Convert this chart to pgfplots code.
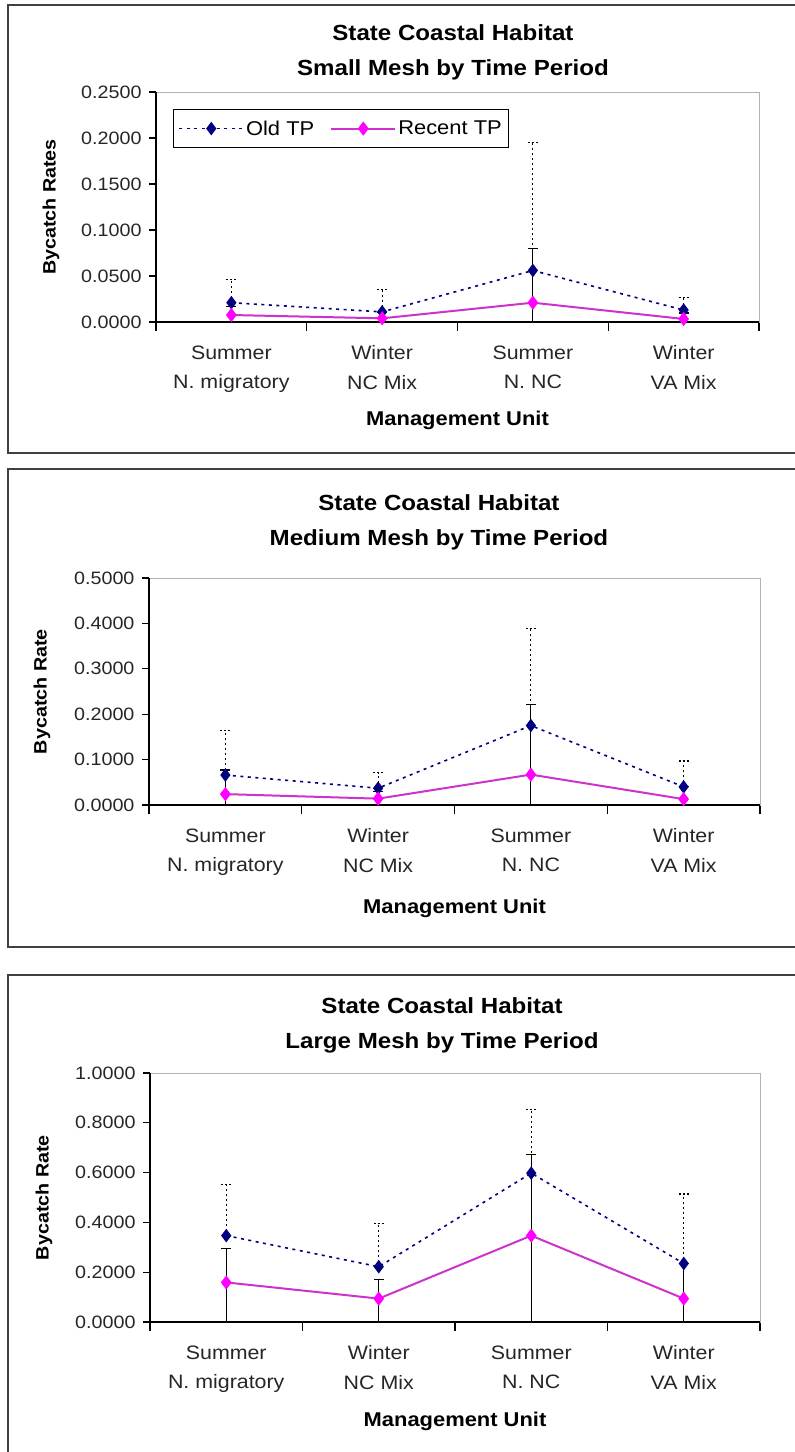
\documentclass[border=0pt]{standalone}
\usepackage{pgfplots}
\pgfplotsset{compat=1.18}
\usepackage{fontspec}
\setmainfont{Liberation Sans}[FakeStretch=1.1]
\definecolor{oldc}{RGB}{0,0,128}
\definecolor{recline}{RGB}{204,51,204}
\definecolor{recmark}{RGB}{255,0,255}
\newcommand\fTitle{\fontsize{22}{35}\selectfont\bfseries}
\newcommand\fTick{\fontsize{18}{20}\selectfont}
\newcommand\fCat{\fontsize{19.5}{30}\selectfont}
\newcommand\fLab{\fontsize{20}{24}\selectfont\bfseries}
\newcommand\fYLab{\fontsize{18}{22}\selectfont\bfseries}
\newcommand\fLeg{\fontsize{20}{24}\selectfont}

\pgfplotsset{
  panel/.style={
    scale only axis, xmin=-0.5, xmax=3.5, ymin=0, clip=false,
    axis line style={draw=gray!60, line width=0.8bp},
    xtick={0,1,2,3},
    xticklabels={{Summer\\N. migratory},{Winter\\NC Mix},{Summer\\N. NC},{Winter\\VA Mix}},
    minor xtick={-0.5,0.5,1.5,2.5,3.5},
    major x tick style={draw=none},
    tick style={black, line width=1.2bp},
    major tick length=7bp, minor tick length=9bp,
    tick align=outside, xtick pos=bottom, ytick pos=left,
    xticklabel style={font=\fCat, align=center, text=black!85, yshift=-13bp},
    yticklabel style={font=\fTick, text=black!85, xshift=-4bp,
      /pgf/number format/fixed, /pgf/number format/fixed zerofill,
      /pgf/number format/precision=4},
    /pgf/number format/assume math mode=true,
    scaled y ticks=false,
    xlabel={Management Unit},
    xlabel style={font=\fLab, anchor=center},
    ylabel style={font=\fYLab, anchor=center},
    title style={font=\fTitle, align=center, anchor=center, yshift=-6bp},
    error bars/y explicit,
    legend image code/.code={\draw[mark repeat=2,mark phase=2] plot coordinates {(0bp,0bp) (32bp,0bp) (64bp,0bp)};},
  },
  oldp/.style={color=oldc, line width=1.6bp, dash pattern=on 3bp off 4.5bp,
    mark=diamond*, mark size=5.5bp, mark options={solid, fill=oldc, draw=oldc},
    error bars/y dir=plus,
    error bars/error bar style={black, line width=1.2bp, dash pattern=on 2bp off 3bp},
    error bars/error mark options={rotate=90, black, mark size=5bp, line width=1.2bp, dash pattern=on 2bp off 2bp}},
  recp/.style={color=recline, line width=2bp, solid,
    mark=diamond*, mark size=5.5bp, mark options={solid, fill=recmark, draw=recmark},
    error bars/y dir=both,
    error bars/error bar style={black, line width=1.2bp, solid},
    error bars/error mark options={rotate=90, black, mark size=5bp, line width=1.2bp, solid}},
}

\begin{document}
\begin{tikzpicture}
\path[use as bounding box] (0,0) rectangle (795bp,-1452bp);
\draw[line width=1.5bp, black!75] (8bp,-5bp) rectangle (805bp,-453bp);
\draw[line width=1.5bp, black!75] (8bp,-469bp) rectangle (805bp,-947bp);
\draw[line width=1.5bp, black!75] (8bp,-975bp) rectangle (805bp,-1465bp);

% Panel 1
\begin{axis}[panel, at={(156bp,-322bp)}, anchor=south west,
  width=603bp, height=230bp, ymax=0.25, ytick distance=0.05,
  ylabel={Bycatch Rates},
  ylabel style={at={(axis description cs:-0.1740,0.5)}},
  xlabel style={at={(axis description cs:0.5,-0.426)}},
  title={State Coastal Habitat\\Small Mesh by Time Period},
  title style={at={(axis description cs:0.4925,1.174)}},
  legend columns=2,
  legend style={at={(axis description cs:0.028,0.926)}, anchor=north west,
    draw=black, line width=1.2bp, font=\fLeg, inner xsep=5bp, inner ysep=9bp,
    /tikz/every even column/.append style={column sep=14bp}},
]
\addplot[oldp] coordinates {
 (0,0.021) += (0,0.025) -= (0,0)
 (1,0.011) += (0,0.024) -= (0,0)
 (2,0.056) += (0,0.139) -= (0,0)
 (3,0.013) += (0,0.0134) -= (0,0)
};
\addlegendentry{Old TP}
\addplot[recp] coordinates {
 (0,0.0076) += (0,0.009) -= (0,0.0076)
 (1,0.004) += (0,0.006) -= (0,0.004)
 (2,0.021) += (0,0.059) -= (0,0.021)
 (3,0.0033) += (0,0.0065) -= (0,0.0033)
};
\addlegendentry{Recent TP}
\draw[black, line width=1.5bp] (rel axis cs:0,1) -- (rel axis cs:0,0) -- (rel axis cs:1,0);
\end{axis}

% Panel 2
\begin{axis}[panel, at={(149bp,-805bp)}, anchor=south west,
  width=611bp, height=227bp, ymax=0.5, ytick distance=0.1,
  ylabel={Bycatch Rate},
  ylabel style={at={(axis description cs:-0.1751,0.5)}},
  xlabel style={at={(axis description cs:0.5,-0.455)}},
  title={State Coastal Habitat\\Medium Mesh by Time Period},
  title style={at={(axis description cs:0.4746,1.244)}},
]
\addplot[oldp] coordinates {
 (0,0.066) += (0,0.099) -= (0,0)
 (1,0.037) += (0,0.034) -= (0,0)
 (2,0.175) += (0,0.213) -= (0,0)
 (3,0.040) += (0,0.057) -= (0,0)
};
\addplot[recp] coordinates {
 (0,0.024) += (0,0.053) -= (0,0.024)
 (1,0.014) += (0,0.016) -= (0,0.014)
 (2,0.067) += (0,0.155) -= (0,0.067)
 (3,0.013) += (0,0.027) -= (0,0.013)
};
\draw[black, line width=1.5bp] (rel axis cs:0,1) -- (rel axis cs:0,0) -- (rel axis cs:1,0);
\end{axis}

% Panel 3
\begin{axis}[panel, at={(150bp,-1322bp)}, anchor=south west,
  width=610bp, height=249bp, ymax=1.0, ytick distance=0.2,
  ylabel={Bycatch Rate},
  ylabel style={at={(axis description cs:-0.1738,0.5)}},
  xlabel style={at={(axis description cs:0.5,-0.40)}},
  title={State Coastal Habitat\\Large Mesh by Time Period},
  title style={at={(axis description cs:0.4787,1.191)}},
]
\addplot[oldp] coordinates {
 (0,0.347) += (0,0.204) -= (0,0)
 (1,0.222) += (0,0.175) -= (0,0)
 (2,0.598) += (0,0.256) -= (0,0)
 (3,0.235) += (0,0.279) -= (0,0)
};
\addplot[recp] coordinates {
 (0,0.159) += (0,0.137) -= (0,0.159)
 (1,0.094) += (0,0.078) -= (0,0.094)
 (2,0.347) += (0,0.325) -= (0,0.347)
 (3,0.094) += (0,0.140) -= (0,0.094)
};
\draw[black, line width=1.5bp] (rel axis cs:0,1) -- (rel axis cs:0,0) -- (rel axis cs:1,0);
\end{axis}
\end{tikzpicture}
\end{document}
